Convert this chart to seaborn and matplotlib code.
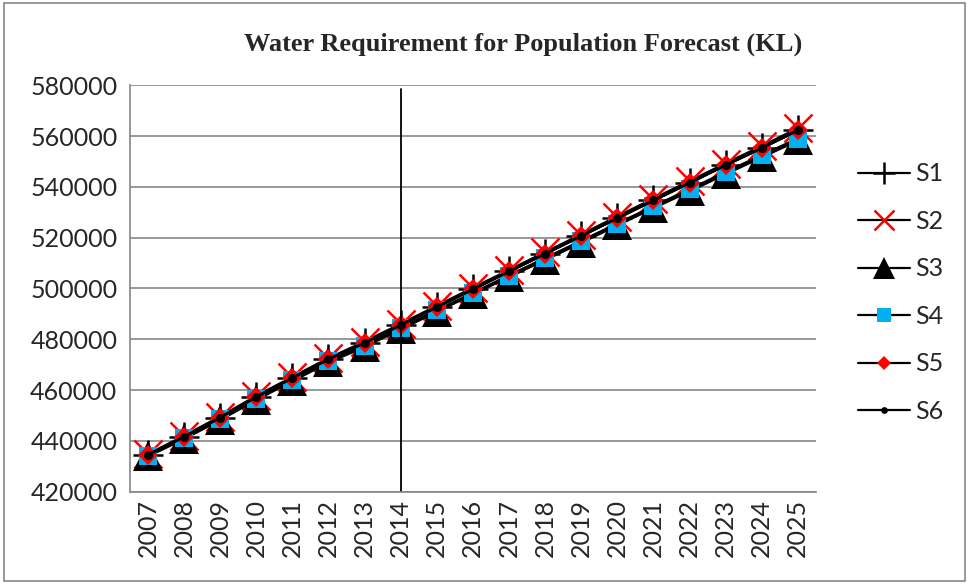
import numpy as np
import pandas as pd
import matplotlib
matplotlib.use("Agg")
import matplotlib.pyplot as plt
import seaborn as sns

# Years on the x axis
years = list(range(2007, 2026))

# Water requirement per scenario (KL)
s1 = [434500, 441600, 449200, 457300, 464800, 472200, 478600, 485600, 492700,
      499700, 506700, 513700, 520700, 527700, 534700, 541600, 548600, 555300, 562300]
s2 = [434700, 441900, 449500, 457600, 465100, 472500, 479000, 486000, 493100,
      500200, 507200, 514200, 521200, 528300, 535300, 542200, 549200, 556000, 563000]
s3 = [434000, 440800, 448300, 456200, 463600, 470900, 477100, 484000, 490900,
      497800, 504600, 511300, 518100, 524900, 531700, 538300, 545100, 551700, 558300]
s4 = [434200, 441100, 448600, 456600, 464000, 471300, 477500, 484400, 491400,
      498200, 505100, 511900, 518700, 525500, 532300, 539000, 545800, 552400, 559000]
s5 = [434500, 441600, 449200, 457300, 464800, 472200, 478600, 485600, 492700,
      499700, 506700, 513700, 520700, 527700, 534700, 541600, 548600, 555300, 562300]
s6 = [434500, 441600, 449200, 457300, 464800, 472200, 478600, 485600, 492700,
      499700, 506700, 513700, 520700, 527700, 534700, 541600, 548600, 555300, 562300]

series = {"S1": s1, "S2": s2, "S3": s3, "S4": s4, "S5": s5, "S6": s6}
styles = {
    "S1": dict(marker="+", ms=22, mew=1.8, mfc="black", mec="black"),
    "S2": dict(marker="x", ms=20, mew=1.8, mfc="red", mec="red"),
    "S3": dict(marker="^", ms=21, mew=0, mfc="black", mec="black"),
    "S4": dict(marker="s", ms=13, mew=0, mfc="#00B0F0", mec="#00B0F0"),
    "S5": dict(marker="D", ms=10, mew=0, mfc="red", mec="red"),
    "S6": dict(marker="o", ms=6.5, mew=0, mfc="black", mec="black"),
}

sns.set_style("white")
plt.rcParams["font.family"] = ["Lato", "DejaVu Sans"]

fig = plt.figure(figsize=(9.69, 5.84), dpi=100)
ax = fig.add_axes([0.134, 0.158, 0.708, 0.696])

for name, vals in series.items():
    st = styles[name]
    df = pd.DataFrame({"year": years, "value": vals})
    sns.lineplot(data=df, x="year", y="value", ax=ax, color="black", lw=2.0,
                 marker=st["marker"], markersize=st["ms"], markeredgewidth=st["mew"],
                 markerfacecolor=st["mfc"], markeredgecolor=st["mec"], label=name)

# vertical marker at the base year
ax.axvline(2014, color="black", lw=1.3, ymax=0.99)

ax.set_xlim(2006.5, 2025.5)
ax.set_ylim(420000, 580000)
ax.set_yticks(np.arange(420000, 580001, 20000))
ax.set_xticks(years)
ax.set_xticklabels([str(y) for y in years], rotation=90, fontsize=18)
ax.set_xticks(np.arange(2006.5, 2025.6, 1), minor=True)
ax.tick_params(axis="x", which="major", length=0, pad=5)
ax.tick_params(axis="x", which="minor", length=7, color="#868686", width=1)
ax.tick_params(axis="y", length=6, color="#868686", labelsize=18, pad=3)
ax.yaxis.grid(True, color="#868686", lw=1.2)
ax.set_axisbelow(True)
ax.set_xlabel("")
ax.set_ylabel("")
for sp in ["top", "right"]:
    ax.spines[sp].set_visible(False)
for sp in ["left", "bottom"]:
    ax.spines[sp].set_color("#868686")
    ax.spines[sp].set_linewidth(1.2)

leg = ax.legend(loc="center left", bbox_to_anchor=(1.061, 0.49), frameon=False,
                fontsize=18, handlelength=2.1, labelspacing=0.98, handletextpad=0.2,
                borderpad=0, borderaxespad=0, markerscale=0.75)
for h in leg.legend_handles:
    h.set_linewidth(1.6)

fig.text(0.54, 0.925, "Water Requirement for Population Forecast (KL)",
         ha="center", va="center", fontsize=19, fontweight="bold",
         family="Liberation Serif")

# outer chart border
fig.patches.append(plt.Rectangle((0.004, 0.005), 0.992, 0.99, transform=fig.transFigure,
                                 fill=False, ec="#868686", lw=1.2))

fig.savefig("out.png", dpi=100)
